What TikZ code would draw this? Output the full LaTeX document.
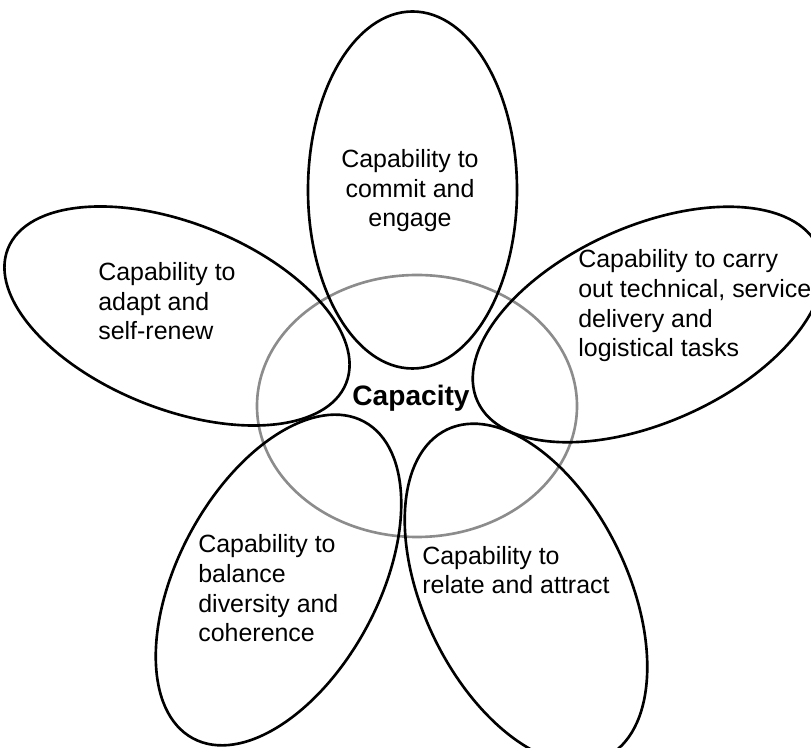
\documentclass[tikz,border=0pt]{standalone}
\usepackage{fontspec}
\setmainfont{Liberation Sans}
\usepackage{tikz}
\usetikzlibrary{positioning}
\usepackage{xcolor}
\definecolor{ringgray}{RGB}{140,140,140}

\begin{document}
\begin{tikzpicture}[x=0.02cm, y=0.02cm]
    \tikzstyle{petal} = [draw, line width=1.5pt]
    \tikzstyle{ring} = [draw=ringgray, line width=1.5pt]
    \tikzstyle{caption} = [inner sep=0pt, align=left, font=\fontsize{14.2}{17}\selectfont]
    \useasboundingbox (0,0) rectangle (811,747);
    % centre
    \draw[ring] (417,341) ellipse [x radius=160, y radius=131];
    % petals
    \draw[petal, rotate around={90:(412.5,557)}] (412.5,557) ellipse [x radius=178.5, y radius=104.5];
    \draw[petal, rotate around={-21.7:(177,431)}] (177,431) ellipse [x radius=182, y radius=93];
    \draw[petal, rotate around={24.2:(648,422.5)}] (648,422.5) ellipse [x radius=187, y radius=98];
    \draw[petal, rotate around={61.6:(278.5,167)}] (278.5,167) ellipse [x radius=180, y radius=100];
    \draw[petal, rotate around={115.8:(526,153.5)}] (526,153.5) ellipse [x radius=182, y radius=102];
    % texts (base = last line)
    \node [caption, align=center, anchor=base] at (410,520) (commit) {Capability to\\commit and\\engage};
    \node [caption, anchor=base west] at (98,407) (adapt) {Capability to\\adapt and\\self-renew};
    \node [caption, anchor=base west] at (578,390) (carry) {Capability to carry\\out technical, service\\delivery and\\logistical tasks};
    \node [caption, anchor=base west] at (198,105) (balance) {Capability to\\balance\\diversity and\\coherence};
    \node [caption, anchor=base west] at (422,153) (relate) {Capability to\\relate and attract};
    \node [font=\fontsize{16}{19}\selectfont\bfseries, inner sep=0pt] at (411,349) (capacity) {Capacity};
\end{tikzpicture}
\end{document}
